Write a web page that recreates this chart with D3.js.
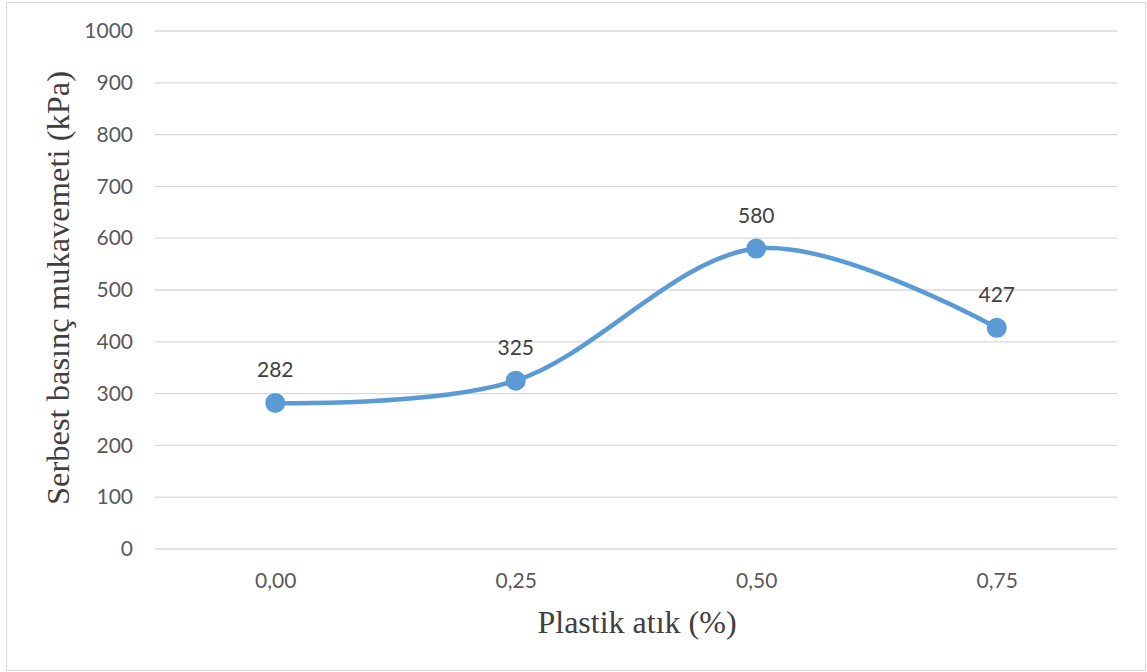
<!DOCTYPE html>
<html><head><meta charset="utf-8">
<script src="https://cdn.jsdelivr.net/npm/d3@7"></script>
<style>body{margin:0;background:#fff;}</style>
</head><body>
<svg id="c" width="1147" height="672"></svg>
<script>
const categories = ["0,00","0,25","0,50","0,75"];
const values = [282, 325, 580, 427];
const yTicks = [0,100,200,300,400,500,600,700,800,900,1000];
const xTitle = "Plastik atık (%)";
const yTitle = "Serbest basınç mukavemeti (kPa)";

const svg = d3.select("#c");
const m = {left:155, right:1117, top:31, bottom:549};
const tickFont = "Lato, 'Open Sans', sans-serif";
svg.append("rect").attr("x",6.5).attr("y",2.5).attr("width",1139).attr("height",668)
  .attr("fill","#fff").attr("stroke","#d9d9d9").attr("stroke-width",1);

const x = d3.scalePoint().domain(categories).range([m.left, m.right]).padding(0.5);
const y = d3.scaleLinear().domain([0,1000]).range([m.bottom, m.top]);

svg.append("g").selectAll("line").data(yTicks).join("line")
  .attr("x1",m.left).attr("x2",m.right)
  .attr("y1",d=>y(d)).attr("y2",d=>y(d))
  .attr("stroke","#d9d9d9").attr("stroke-width",1.3);

const yAxis = svg.append("g").attr("transform",`translate(${m.left},0)`)
  .call(d3.axisLeft(y).tickValues(yTicks).tickFormat(d3.format("d")).tickSize(0).tickPadding(22));
yAxis.select(".domain").remove();
yAxis.selectAll("text").attr("font-family",tickFont).attr("font-size",21).attr("fill","#595959");

const xAxis = svg.append("g").attr("transform",`translate(0,${m.bottom})`)
  .call(d3.axisBottom(x).tickSize(0).tickPadding(24));
xAxis.select(".domain").remove();
xAxis.selectAll("text").attr("font-family",tickFont).attr("font-size",21).attr("fill","#595959");

const line = d3.line().x((d,i)=>x(categories[i])).y(d=>y(d)).curve(d3.curveCardinal.tension(0));
svg.append("path").datum(values).attr("d",line)
  .attr("fill","none").attr("stroke","#5b9bd5").attr("stroke-width",4.5).attr("stroke-linecap","round");

svg.selectAll("circle.pt").data(values).join("circle").attr("class","pt")
  .attr("cx",(d,i)=>x(categories[i])).attr("cy",d=>y(d)).attr("r",10).attr("fill","#5b9bd5");

svg.selectAll("text.lbl").data(values).join("text").attr("class","lbl")
  .attr("x",(d,i)=>x(categories[i])).attr("y",d=>y(d)-26)
  .attr("text-anchor","middle").attr("font-family",tickFont)
  .attr("font-size",21).attr("fill","#404040").text(d=>d);

svg.append("text").attr("x",637).attr("y",633).attr("text-anchor","middle")
  .attr("font-family","'Liberation Serif', 'Times New Roman', serif").attr("font-size",32).attr("fill","#404040").text(xTitle);
svg.append("text").attr("transform","translate(69,288) rotate(-90)").attr("text-anchor","middle")
  .attr("font-family","'Liberation Serif', 'Times New Roman', serif").attr("font-size",32.5).attr("fill","#404040").text(yTitle);
</script>
</body></html>
